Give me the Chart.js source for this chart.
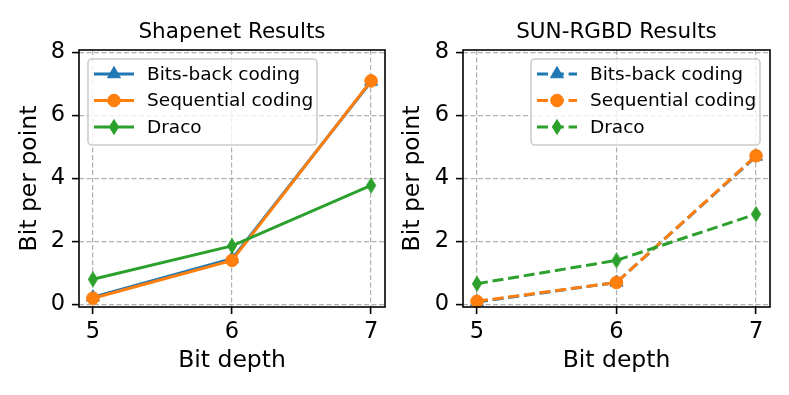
<!DOCTYPE html>
<html><head><meta charset="utf-8">
<script src="https://cdn.jsdelivr.net/npm/chart.js@4/dist/chart.umd.min.js"></script>
<style>
html,body{margin:0;padding:0;background:#fff;width:789px;height:395px;overflow:hidden}
.box{position:absolute;top:0;height:395px}
</style></head><body>
<div class="box" style="left:0;width:395px"><canvas id="c1"></canvas></div>
<div class="box" style="left:395px;width:394px"><canvas id="c2"></canvas></div>
<script>
// ---- data ----
const bitDepths = [5, 6, 7];
const seriesNames = ['Bits-back coding', 'Sequential coding', 'Draco'];
const shapenetBitsBack = [0.23, 1.45, 7.08];
const shapenetSequential = [0.20, 1.40, 7.10];
const shapenetDraco = [0.80, 1.86, 3.78];
const sunBitsBack = [0.08, 0.70, 4.70];
const sunSequential = [0.10, 0.70, 4.72];
const sunDraco = [0.66, 1.40, 2.87];
const xTicks = [5, 6, 7];
const yTicks = [0, 2, 4, 6, 8];
const titles = ['Shapenet Results', 'SUN-RGBD Results'];
const xLabel = 'Bit depth';
const yLabel = 'Bit per point';

const COLORS = ['#1f77b4', '#ff7f0e', '#2ca02c'];
const FONT = "'DejaVu Sans', sans-serif";

function thinDiamond(color) {
  const c = document.createElement('canvas');
  c.width = 12; c.height = 18;
  const g = c.getContext('2d');
  g.beginPath();
  g.moveTo(6, 1.5); g.lineTo(10.6, 9); g.lineTo(6, 16.5); g.lineTo(1.4, 9); g.closePath();
  g.fillStyle = color; g.fill();
  g.lineWidth = 1; g.strokeStyle = color; g.stroke();
  return c;
}
const diamondImg = thinDiamond(COLORS[2]);
const STYLES = ['triangle', 'circle', diamondImg];
const RADII = [7.5, 6.3, 6];

function toPts(arr) { return bitDepths.map((x, i) => ({x: x, y: arr[i]})); }

function makeDatasets(arrs, dashed) {
  return arrs.map((arr, i) => ({
    label: seriesNames[i],
    data: toPts(arr),
    borderColor: COLORS[i],
    backgroundColor: COLORS[i],
    borderWidth: 3,
    borderDash: dashed ? [11, 4.8] : [],
    pointStyle: STYLES[i],
    pointRadius: RADII[i],
    pointHoverRadius: RADII[i],
    pointBorderWidth: 1,
    pointBorderColor: COLORS[i],
    pointBackgroundColor: COLORS[i],
    tension: 0,
    order: 2 - i,
    clip: false
  }));
}

function drawMarker(ctx, style, x, y, r, color) {
  ctx.save();
  ctx.setLineDash([]);
  ctx.fillStyle = color; ctx.strokeStyle = color; ctx.lineWidth = 1;
  if (style === 'circle') {
    ctx.beginPath(); ctx.arc(x, y, r, 0, Math.PI * 2); ctx.fill(); ctx.stroke();
  } else if (style === 'triangle') {
    ctx.beginPath();
    for (let k = 0; k < 3; k++) {
      const a = k * 2 * Math.PI / 3;
      const px = x + Math.sin(a) * r, py = y - Math.cos(a) * r;
      if (k === 0) ctx.moveTo(px, py); else ctx.lineTo(px, py);
    }
    ctx.closePath(); ctx.fill(); ctx.stroke();
  } else {
    ctx.drawImage(style, x - style.width / 2, y - style.height / 2);
  }
  ctx.restore();
}

const framePlugin = {
  id: 'frame',
  afterDraw(chart, args, opts) {
    const ctx = chart.ctx, a = chart.chartArea;
    ctx.save();
    // spines
    ctx.strokeStyle = '#000'; ctx.lineWidth = 1.6; ctx.setLineDash([]);
    ctx.strokeRect(a.left, a.top, a.right - a.left, a.bottom - a.top);
    // title
    ctx.fillStyle = '#000';
    ctx.font = '21.5px ' + FONT;
    ctx.textAlign = 'center'; ctx.textBaseline = 'alphabetic';
    ctx.fillText(opts.title, (a.left + a.right) / 2, 38);
    // legend
    const W = 229, H = 86;
    const lx = opts.legendPos === 'left' ? a.left + 9 : a.right - 10 - W;
    const ly = a.top + 9;
    const rr = 4;
    ctx.beginPath();
    ctx.moveTo(lx + rr, ly); ctx.lineTo(lx + W - rr, ly); ctx.arcTo(lx + W, ly, lx + W, ly + rr, rr);
    ctx.lineTo(lx + W, ly + H - rr); ctx.arcTo(lx + W, ly + H, lx + W - rr, ly + H, rr);
    ctx.lineTo(lx + rr, ly + H); ctx.arcTo(lx, ly + H, lx, ly + H - rr, rr);
    ctx.lineTo(lx, ly + rr); ctx.arcTo(lx, ly, lx + rr, ly, rr); ctx.closePath();
    ctx.fillStyle = 'rgba(255,255,255,0.8)'; ctx.fill();
    ctx.strokeStyle = '#cccccc'; ctx.lineWidth = 1.6; ctx.stroke();
    chart.data.datasets.forEach((ds, i) => {
      const cy = ly + 15 + i * 26.5;
      ctx.save();
      ctx.strokeStyle = ds.borderColor; ctx.lineWidth = 3;
      ctx.setLineDash(ds.borderDash || []);
      ctx.beginPath(); ctx.moveTo(lx + 6, cy); ctx.lineTo(lx + 46, cy); ctx.stroke();
      ctx.restore();
      drawMarker(ctx, ds.pointStyle, lx + 26, cy, ds.pointRadius, ds.borderColor);
      ctx.fillStyle = '#000'; ctx.font = '18.5px ' + FONT;
      ctx.textAlign = 'left'; ctx.textBaseline = 'middle';
      ctx.fillText(ds.label, lx + 59, cy + 1);
    });
    ctx.restore();
  }
};

function makeChart(id, arrs, dashed, title, legendPos, yAxisWidth, yTitlePad, padRight) {
  return new Chart(document.getElementById(id), {
    type: 'line',
    data: { datasets: makeDatasets(arrs, dashed) },
    plugins: [framePlugin],
    options: {
      responsive: true,
      maintainAspectRatio: false,
      animation: false,
      events: [],
      layout: { padding: { top: 50, right: padRight, bottom: 0, left: 0 } },
      plugins: {
        legend: { display: false },
        tooltip: { enabled: false },
        title: { display: false },
        frame: { title: title, legendPos: legendPos }
      },
      scales: {
        x: {
          type: 'linear', min: 4.9, max: 7.1,
          afterBuildTicks: s => { s.ticks = xTicks.map(v => ({value: v})); },
          afterFit: s => { s.height = 88; },
          ticks: { color: '#000', font: { family: FONT, size: 22.5 }, padding: 5, maxRotation: 0, autoSkip: false },
          grid: { color: '#b0b0b0', lineWidth: 1.2, tickColor: '#000', tickLength: 7, tickWidth: 1.6 },
          border: { display: false, dash: [5, 2.5] },
          title: { display: true, text: xLabel, color: '#000', font: { family: FONT, size: 23.5 }, padding: { top: 0, bottom: 20 } }
        },
        y: {
          type: 'linear', min: -0.08, max: 8.08,
          afterBuildTicks: s => { s.ticks = yTicks.map(v => ({value: v})); },
          afterFit: s => { s.width = yAxisWidth; },
          ticks: { color: '#000', font: { family: FONT, size: 22.5 }, padding: 7 },
          grid: { color: '#b0b0b0', lineWidth: 1.2, tickColor: '#000', tickLength: 7, tickWidth: 1.6 },
          border: { display: false, dash: [5, 2.5] },
          title: { display: true, text: yLabel, color: '#000', font: { family: FONT, size: 23.5 }, padding: { top: yTitlePad, bottom: 0 } }
        }
      }
    }
  });
}

makeChart('c1', [shapenetBitsBack, shapenetSequential, shapenetDraco], false, titles[0], 'left', 79, 16, 10);
makeChart('c2', [sunBitsBack, sunSequential, sunDraco], true, titles[1], 'right', 68, 4, 19);
</script>
</body></html>
